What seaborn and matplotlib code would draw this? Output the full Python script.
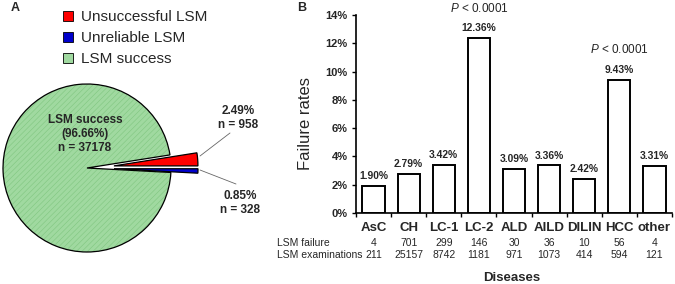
import matplotlib
matplotlib.use("Agg")
import matplotlib.pyplot as plt
import matplotlib.transforms as mtransforms
from matplotlib.patches import Patch
from matplotlib.colors import to_rgba
import seaborn as sns
import pandas as pd

# ---- data ----
pie_labels = ["Unreliable LSM", "Unsuccessful LSM", "LSM success"]
pie_pcts = [0.85, 2.49, 96.66]
pie_counts = [328, 958, 37178]
pie_colors = ["#0000cc", "#ff0000", "#a0d9a0"]

diseases = ["AsC", "CH", "LC-1", "LC-2", "ALD", "AILD", "DILIN", "HCC", "other"]
fail_rates = [1.90, 2.79, 3.42, 12.36, 3.09, 3.36, 2.42, 9.43, 3.31]
lsm_failure = [4, 701, 299, 146, 30, 36, 10, 56, 4]
lsm_exams = [211, 25157, 8742, 1181, 971, 1073, 414, 594, 121]
yticks = [0, 2, 4, 6, 8, 10, 12, 14]
pval_cats = ["LC-2", "HCC"]

sns.set_theme(style="white")
plt.rcParams["font.family"] = ["Liberation Sans", "DejaVu Sans"]
plt.rcParams["mathtext.fontset"] = "custom"
plt.rcParams["mathtext.it"] = "Liberation Sans:italic"
plt.rcParams["mathtext.rm"] = "Liberation Sans"
plt.rcParams["hatch.linewidth"] = 0.4

W, H = 675, 284
fig = plt.figure(figsize=(W / 100, H / 100), dpi=100)

def fy(y):
    return 1 - y / H

# ---------------- Panel A: pie ----------------
axp = fig.add_axes([0, 0, 340 / W, 1])
cx, cy, r = 87, 284 - 168, 84
wedges, _ = axp.pie(pie_pcts, colors=pie_colors, explode=[27, 27, 0],
                    startangle=-3.06, counterclock=True, center=(cx, cy), radius=r,
                    wedgeprops=dict(edgecolor="black", linewidth=0.9))
axp.set_xlim(0, 340)
axp.set_ylim(0, 284)
axp.set_aspect("equal")
axp.axis("off")
wedges[2].set_hatch("//////")
wedges[2]._hatch_color = to_rgba("#80c680")

axp.text(85, 284 - 134, "LSM success\n(96.66%)\nn = 37178", ha="center", va="center",
         fontsize=8.5, fontweight="bold", linespacing=1.25)
axp.text(238, 284 - 118, "2.49%\nn = 958", ha="center", va="center",
         fontsize=8.5, fontweight="bold", linespacing=1.2)
axp.text(240, 284 - 203, "0.85%\nn = 328", ha="center", va="center",
         fontsize=8.5, fontweight="bold", linespacing=1.2)
axp.plot([200, 230], [284 - 156, 284 - 133], color="#666666", lw=0.6)
axp.plot([200, 236], [284 - 170, 284 - 184], color="#666666", lw=0.6)

handles = [Patch(facecolor=pie_colors[1], edgecolor="black", linewidth=0.6),
           Patch(facecolor=pie_colors[0], edgecolor="black", linewidth=0.6),
           Patch(facecolor=pie_colors[2], edgecolor="black", linewidth=0.6)]
fig.legend(handles, [pie_labels[1], pie_labels[0], pie_labels[2]],
           loc="upper left", bbox_to_anchor=(57 / W, fy(4)), frameon=False,
           fontsize=11, handlelength=0.65, handleheight=0.65, handletextpad=0.55,
           labelspacing=0.47, borderaxespad=0)
fig.text(15 / W, fy(8), "A", fontsize=9, fontweight="bold", ha="center", va="center")

# ---------------- Panel B: bars ----------------
axb = fig.add_axes([356 / W, fy(213), (672 - 356) / W, (213 - 15) / H])
df = pd.DataFrame({"disease": diseases, "rate": fail_rates})
sns.barplot(data=df, x="disease", y="rate", ax=axb, color="white",
            edgecolor="black", linewidth=1.4, width=0.63, saturation=1)
axb.set_xlim(-0.5, len(diseases) - 0.5)
axb.set_ylim(0, 14)
axb.set_yticks(yticks)
axb.set_yticklabels([f"{v}%" for v in yticks], fontsize=8, fontweight="bold")
for s in ["top", "right"]:
    axb.spines[s].set_visible(False)
for s in ["left", "bottom"]:
    axb.spines[s].set_color("black")
    axb.spines[s].set_linewidth(1.2)
axb.tick_params(axis="y", direction="out", length=3, width=1, color="black", pad=3, left=True)
axb.set_xticks(range(len(diseases)))
axb.set_xticklabels(diseases, fontsize=9.5, fontweight="bold")
axb.tick_params(axis="x", which="major", length=0, pad=6.5)
axb.set_xticks([i - 0.5 for i in range(len(diseases) + 1)], minor=True)
axb.tick_params(axis="x", which="minor", direction="out", length=3, width=1,
                color="black", bottom=True)
axb.set_xlabel("")
axb.set_ylabel("")

for i, v in enumerate(fail_rates):
    axb.text(i, v + 0.35, f"{v:.2f}%", ha="center", va="bottom", fontsize=7.4,
             fontweight="bold")
for c in pval_cats:
    i = diseases.index(c)
    axb.text(i, fail_rates[i] + 1.65, r"$\it{P}$ < 0.0001", ha="center", va="bottom",
             fontsize=8.5)

tr = mtransforms.blended_transform_factory(axb.transData, fig.transFigure)
fig.text(277 / W, fy(243), "LSM failure", fontsize=7.5, ha="left", va="center")
fig.text(277 / W, fy(255), "LSM examinations", fontsize=7.5, ha="left", va="center")
for i in range(len(diseases)):
    axb.text(i, fy(243), str(lsm_failure[i]), transform=tr, fontsize=7.5,
             ha="center", va="center")
    axb.text(i, fy(255), str(lsm_exams[i]), transform=tr, fontsize=7.5,
             ha="center", va="center")

fig.text(512 / W, fy(278), "Diseases", fontsize=9.5, fontweight="bold",
         ha="center", va="center")
fig.text(305 / W, fy(124), "Failure rates", fontsize=12, rotation=90,
         ha="center", va="center")
fig.text(302 / W, fy(8), "B", fontsize=9, fontweight="bold", ha="center", va="center")

fig.savefig("out.png", dpi=100)
